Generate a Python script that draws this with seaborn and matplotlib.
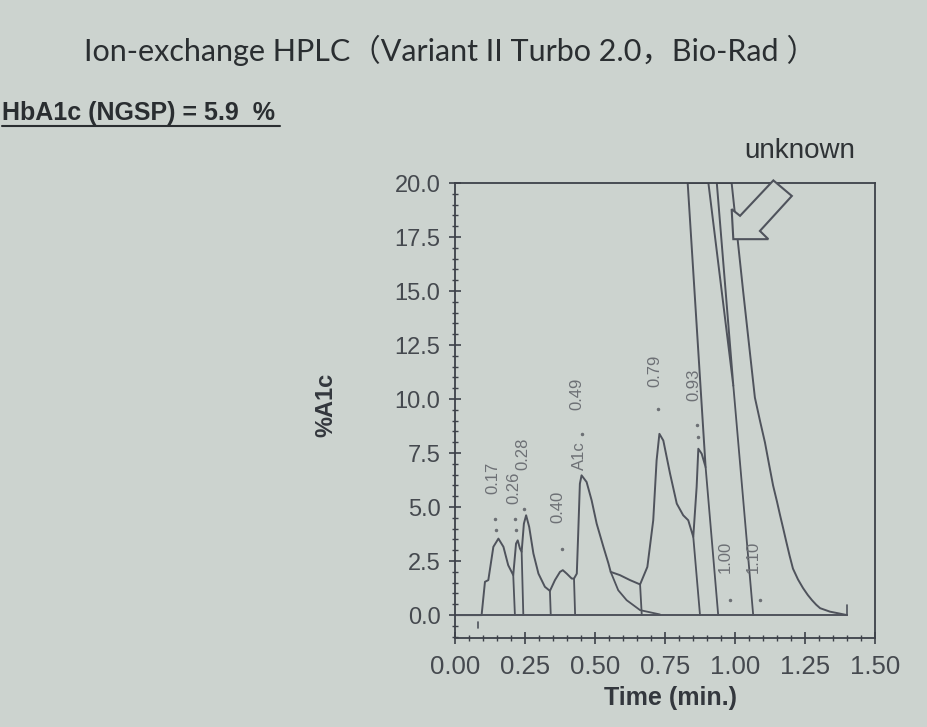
import numpy as np
import pandas as pd
import matplotlib.pyplot as plt
import seaborn as sns
from matplotlib.patches import Polygon
from matplotlib.lines import Line2D
from matplotlib.ticker import MultipleLocator

trace_t = [0.00, 0.095, 0.107, 0.119, 0.137, 0.155, 0.173, 0.190, 0.208, 0.218, 0.224, 0.232, 0.238,
           0.246, 0.254, 0.265, 0.280, 0.298, 0.321, 0.339, 0.357, 0.375, 0.385, 0.399, 0.417, 0.425,
           0.435, 0.440, 0.446, 0.452, 0.470, 0.488, 0.506, 0.530, 0.548, 0.556, 0.589, 0.625, 0.661,
           0.687, 0.708, 0.720, 0.730, 0.744, 0.768, 0.792, 0.815, 0.833, 0.851, 0.863, 0.869, 0.881,
           0.895, 0.831, 0.905, 0.994, 0.935, 0.988, 1.029, 1.071, 1.090, 1.107, 1.122, 1.136, 1.150,
           1.161, 1.172, 1.182, 1.195, 1.207, 1.225, 1.243, 1.260, 1.275, 1.290, 1.304, 1.339, 1.370,
           1.400]
trace_y = [0.0, 0.0, 1.54, 1.62, 3.16, 3.54, 3.16, 2.31, 1.85, 3.31, 3.46, 3.08, 2.93,
           4.23, 4.62, 4.08, 2.85, 1.92, 1.31, 1.12, 1.62, 2.00, 2.08, 1.92, 1.69, 1.69,
           1.92, 3.77, 6.08, 6.47, 6.16, 5.31, 4.23, 3.16, 2.39, 2.00, 1.85, 1.62, 1.42,
           2.23, 4.39, 7.16, 8.39, 8.08, 6.55, 5.16, 4.62, 4.39, 3.62, 5.93, 7.70, 7.47,
           6.85, 20.0, 20.0, 10.62, 20.0, 20.0, 15.0, 10.07, 8.95, 7.99, 6.95, 6.00, 5.25,
           4.62, 4.02, 3.46, 2.75, 2.15, 1.65, 1.25, 0.93, 0.69, 0.48, 0.32, 0.16, 0.08,
           0.0]

baseline_t = [0.0, 1.40]
baseline_y = [0.0, 0.0]

# cauda do pico A1c (linha de separação)
skim_t = [0.556, 0.583, 0.613, 0.661, 0.732]
skim_y = [2.00, 1.15, 0.69, 0.23, 0.03]

# linhas de corte entre picos
drop_t_top = [0.208, 0.238, 0.339, 0.425, 0.661, 0.851, 0.895, 0.994]
drop_y_top = [1.85, 2.93, 1.12, 1.69, 1.42, 3.62, 6.85, 10.62]
drop_t_bottom = [0.214, 0.244, 0.342, 0.429, 0.667, 0.875, 0.940, 1.065]

peak_labels = ['0.17', '0.26', '0.28', '0.40', 'A1c', '0.49', '0.79', '0.93', '1.00', '1.10']
peak_label_t = [0.137, 0.210, 0.242, 0.369, 0.446, 0.435, 0.714, 0.854, 0.964, 1.065]
peak_label_y = [5.62, 5.15, 6.70, 4.24, 6.70, 9.47, 10.55, 9.93, 1.93, 1.93]

dot_t = [0.143, 0.148, 0.214, 0.218, 0.246, 0.381, 0.452, 0.726, 0.863, 0.868, 0.982, 1.089]
dot_y = [4.47, 3.93, 4.47, 3.93, 4.93, 3.08, 8.39, 9.55, 8.78, 8.25, 0.69, 0.69]

inject_t = [0.082, 0.082]
inject_y = [-0.30, -0.60]
end_t = [1.40, 1.40]
end_y = [0.0, 0.45]

# seta "unknown"
arrow_t = [0.994, 0.988, 1.018, 1.137, 1.203, 1.089, 1.119]
arrow_y = [17.40, 18.79, 18.48, 20.12, 19.40, 17.78, 17.40]

x_ticks = [0.00, 0.25, 0.50, 0.75, 1.00, 1.25, 1.50]
y_ticks = [0.0, 2.5, 5.0, 7.5, 10.0, 12.5, 15.0, 17.5, 20.0]

bg = '#ccd3cf'
ink = '#3d4149'
trace_color = '#4f535c'
label_grey = '#6d7075'

sns.set_theme(style='ticks')
plt.rcParams['font.family'] = ['Liberation Sans', 'DejaVu Sans']

fig = plt.figure(figsize=(9.28, 7.27), dpi=100, facecolor=bg)
ax = fig.add_axes([455 / 928, (727 - 638) / 727, 420 / 928, 455 / 727])
ax.set_facecolor(bg)

df = pd.DataFrame({'t': trace_t, 'y': trace_y})
sns.lineplot(data=df, x='t', y='y', sort=False, estimator=None, ax=ax, color=trace_color, lw=1.4)
ax.plot(baseline_t, baseline_y, color=trace_color, lw=1.4)
ax.plot(skim_t, skim_y, color=trace_color, lw=1.3)
for t0, y0, t1 in zip(drop_t_top, drop_y_top, drop_t_bottom):
    ax.plot([t0, t1], [y0, 0.0], color=trace_color, lw=1.3)
ax.plot(inject_t, inject_y, color=trace_color, lw=1.2)
ax.plot(end_t, end_y, color=trace_color, lw=1.2)

for lab, t, y in zip(peak_labels, peak_label_t, peak_label_y):
    ax.text(t, y, lab, rotation=90, ha='center', va='bottom', fontsize=12, color=label_grey)
ax.plot(dot_t, dot_y, ls='', marker='.', ms=3, color=label_grey)

arrow = Polygon(list(zip(arrow_t, arrow_y)), closed=True, facecolor=bg, edgecolor=trace_color,
                lw=1.5, clip_on=False, zorder=5)
ax.add_patch(arrow)
ax.text(1.232, 21.48, 'unknown', ha='center', va='center', fontsize=20, color='#2f3336', clip_on=False)

ax.set_xlim(0, 1.5)
ax.set_ylim(-1.06, 20)
ax.set_xticks(x_ticks)
ax.set_xticklabels([f'{v:.2f}' for v in x_ticks])
ax.set_yticks(y_ticks)
ax.set_yticklabels([f'{v:.1f}' for v in y_ticks])
ax.xaxis.set_minor_locator(MultipleLocator(0.05))
ax.yaxis.set_minor_locator(MultipleLocator(0.5))
ax.tick_params(axis='both', which='major', direction='inout', length=9, width=1.2, color=ink)
ax.tick_params(axis='both', which='minor', direction='inout', length=5, width=1.0, color=ink)
ax.tick_params(axis='x', which='major', labelsize=18.5, labelcolor='#45494f', pad=8)
ax.tick_params(axis='y', which='major', labelsize=17, labelcolor='#45494f', pad=6)
for s in ax.spines.values():
    s.set_color(ink)
    s.set_linewidth(1.3)

ax.set_xlabel('Time (min.)', fontsize=18, fontweight='bold', color='#33373d')
ax.xaxis.set_label_coords(0.512, -0.105)
ax.set_ylabel('%A1c', fontsize=17, fontweight='bold', color='#33373d')
ax.yaxis.set_label_coords(-0.281, 0.512)

fig.text(0.485, 1 - 50 / 727, 'Ion-exchange HPLC（Variant II Turbo 2.0，Bio-Rad ）', ha='center', va='center',
         fontsize=22, color='#2a2e31', family=['Lato', 'Noto Sans CJK SC'])
fig.text(2 / 928, 1 - 113 / 727, 'HbA1c (NGSP) = 5.9  %', ha='left', va='center', fontsize=18,
         fontweight='bold', color='#2a2e31')
fig.add_artist(Line2D([2 / 928, 280 / 928], [1 - 126 / 727] * 2, color='#2a2e31', lw=1.5))

fig.savefig('out.png', dpi=100, facecolor=bg)
